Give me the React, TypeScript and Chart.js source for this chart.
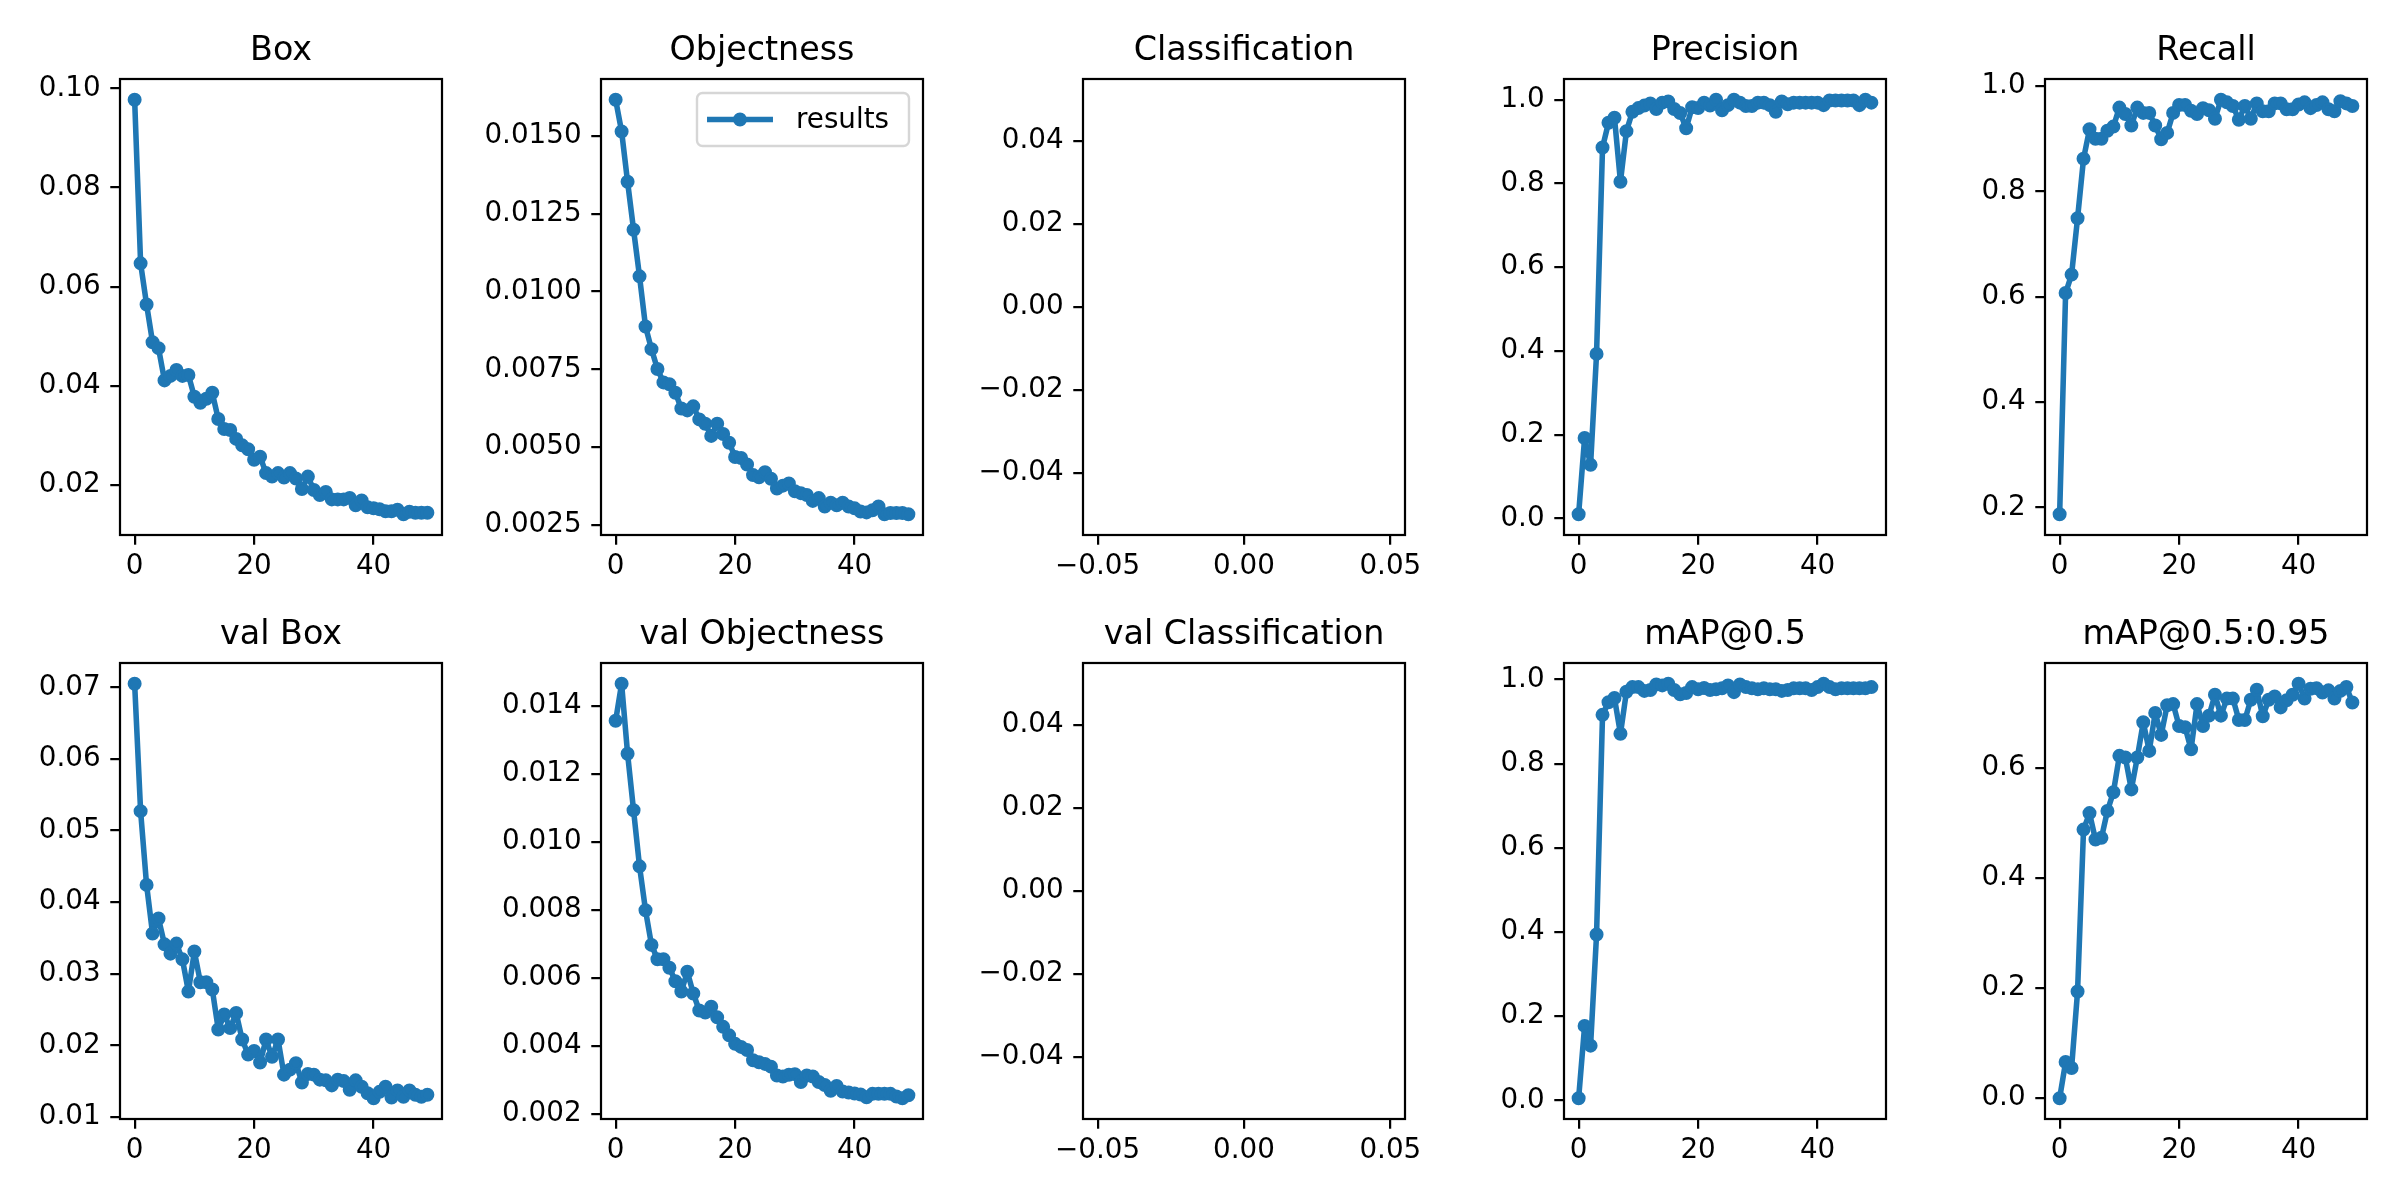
import React, { useEffect, useRef } from 'react';
import { Chart, registerables } from 'chart.js';

Chart.register(...registerables);

// ---------- data ----------
const epochs = [0,1,2,3,4,5,6,7,8,9,10,11,12,13,14,15,16,17,18,19,20,21,22,23,24,25,26,27,28,29,30,31,32,33,34,35,36,37,38,39,40,41,42,43,44,45,46,47,48,49];

const boxLoss = [0.0977,0.0647,0.0564,0.0488,0.0476,0.0411,0.0420,0.0432,0.0420,0.0422,0.0378,0.0366,0.0374,0.0386,0.0333,0.0313,0.0311,0.0293,0.0280,0.0272,0.0251,0.0257,0.0224,0.0217,0.0224,0.0215,0.0224,0.0213,0.0192,0.0217,0.0190,0.0180,0.0186,0.0171,0.0171,0.0171,0.0174,0.0159,0.0169,0.0155,0.0153,0.0151,0.0147,0.0147,0.0150,0.0141,0.0146,0.0144,0.0144,0.0144];
const objLoss = [0.01617,0.01515,0.01353,0.01199,0.01049,0.00888,0.00815,0.00751,0.00708,0.00702,0.00675,0.00624,0.00618,0.00631,0.00589,0.00575,0.00536,0.00575,0.00542,0.00514,0.00468,0.00465,0.00444,0.00410,0.00403,0.00419,0.00398,0.00367,0.00376,0.00383,0.00358,0.00352,0.00346,0.00327,0.00336,0.00309,0.00321,0.00313,0.00321,0.00309,0.00303,0.00293,0.00290,0.00297,0.00309,0.00284,0.00288,0.00288,0.00288,0.00284];
const clsLoss: number[] = [];
const precision = [0.010,0.192,0.128,0.393,0.886,0.945,0.957,0.804,0.925,0.971,0.980,0.986,0.991,0.978,0.993,0.996,0.978,0.968,0.932,0.982,0.980,0.993,0.986,1.000,0.975,0.987,1.000,0.993,0.985,0.985,0.993,0.993,0.987,0.971,0.996,0.989,0.993,0.993,0.993,0.993,0.993,0.987,0.998,0.998,0.998,0.998,0.998,0.987,1.000,0.993];
const recall = [0.187,0.607,0.642,0.749,0.862,0.918,0.900,0.900,0.915,0.923,0.959,0.947,0.925,0.959,0.949,0.949,0.925,0.899,0.911,0.949,0.964,0.964,0.953,0.947,0.958,0.954,0.938,0.974,0.969,0.962,0.936,0.962,0.938,0.967,0.952,0.952,0.967,0.967,0.956,0.956,0.965,0.969,0.958,0.964,0.969,0.956,0.952,0.971,0.967,0.962];
const valBoxLoss = [0.0705,0.0527,0.0424,0.0356,0.0377,0.0341,0.0328,0.0342,0.0320,0.0275,0.0331,0.0288,0.0288,0.0278,0.0222,0.0243,0.0224,0.0245,0.0208,0.0187,0.0192,0.0176,0.0208,0.0184,0.0208,0.0159,0.0166,0.0175,0.0148,0.0160,0.0159,0.0152,0.0151,0.0144,0.0152,0.0150,0.0138,0.0151,0.0142,0.0133,0.0126,0.0135,0.0142,0.0127,0.0137,0.0128,0.0137,0.0131,0.0128,0.0131];
const valObjLoss = [0.01357,0.01466,0.01260,0.01094,0.00929,0.00800,0.00698,0.00656,0.00656,0.00631,0.00591,0.00561,0.00619,0.00555,0.00505,0.00499,0.00516,0.00485,0.00457,0.00432,0.00407,0.00398,0.00389,0.00359,0.00353,0.00348,0.00340,0.00314,0.00311,0.00316,0.00318,0.00295,0.00314,0.00311,0.00295,0.00286,0.00269,0.00283,0.00267,0.00264,0.00261,0.00258,0.00250,0.00260,0.00260,0.00260,0.00260,0.00252,0.00247,0.00256];
const valClsLoss: number[] = [];
const map50 = [0.005,0.177,0.130,0.394,0.916,0.946,0.956,0.871,0.971,0.982,0.982,0.973,0.975,0.988,0.986,0.990,0.975,0.965,0.968,0.982,0.977,0.980,0.975,0.977,0.979,0.986,0.970,0.988,0.982,0.979,0.977,0.979,0.977,0.977,0.973,0.975,0.979,0.979,0.979,0.975,0.982,0.990,0.982,0.977,0.979,0.979,0.979,0.979,0.979,0.982];
const map5095 = [0.000,0.066,0.055,0.194,0.488,0.518,0.470,0.473,0.522,0.556,0.622,0.619,0.561,0.619,0.683,0.631,0.700,0.660,0.714,0.716,0.676,0.674,0.634,0.716,0.676,0.695,0.733,0.695,0.726,0.726,0.687,0.687,0.724,0.742,0.694,0.724,0.730,0.710,0.723,0.733,0.753,0.726,0.744,0.745,0.737,0.741,0.726,0.740,0.747,0.719];

// ---------- tick labels ----------
const epochTicks = [0, 20, 40];
const emptyXTicks = [-0.05, 0, 0.05];
const emptyYTicks = [-0.04, -0.02, 0, 0.02, 0.04];
const boxTicks = [0.02, 0.04, 0.06, 0.08, 0.10];
const objTicks = [0.0025, 0.005, 0.0075, 0.01, 0.0125, 0.015];
const unitTicks = [0, 0.2, 0.4, 0.6, 0.8, 1.0];
const recallTicks = [0.2, 0.4, 0.6, 0.8, 1.0];
const valBoxTicks = [0.01, 0.02, 0.03, 0.04, 0.05, 0.06, 0.07];
const valObjTicks = [0.002, 0.004, 0.006, 0.008, 0.010, 0.012, 0.014];
const map5095Ticks = [0, 0.2, 0.4, 0.6];

const titles = ['Box', 'Objectness', 'Classification', 'Precision', 'Recall',
  'val Box', 'val Objectness', 'val Classification', 'mAP@0.5', 'mAP@0.5:0.95'];
const seriesLabel = 'results';

type PanelDef = {
  title: string;
  values: number[];
  yTicks: number[];
  yDec: number;
  xTicks: number[];
  xDec: number;
  legend?: boolean;
};

const PANELS: PanelDef[] = [
  { title: titles[0], values: boxLoss, yTicks: boxTicks, yDec: 2, xTicks: epochTicks, xDec: 0 },
  { title: titles[1], values: objLoss, yTicks: objTicks, yDec: 4, xTicks: epochTicks, xDec: 0, legend: true },
  { title: titles[2], values: clsLoss, yTicks: emptyYTicks, yDec: 2, xTicks: emptyXTicks, xDec: 2 },
  { title: titles[3], values: precision, yTicks: unitTicks, yDec: 1, xTicks: epochTicks, xDec: 0 },
  { title: titles[4], values: recall, yTicks: recallTicks, yDec: 1, xTicks: epochTicks, xDec: 0 },
  { title: titles[5], values: valBoxLoss, yTicks: valBoxTicks, yDec: 2, xTicks: epochTicks, xDec: 0 },
  { title: titles[6], values: valObjLoss, yTicks: valObjTicks, yDec: 3, xTicks: epochTicks, xDec: 0 },
  { title: titles[7], values: valClsLoss, yTicks: emptyYTicks, yDec: 2, xTicks: emptyXTicks, xDec: 2 },
  { title: titles[8], values: map50, yTicks: unitTicks, yDec: 1, xTicks: epochTicks, xDec: 0 },
  { title: titles[9], values: map5095, yTicks: map5095Ticks, yDec: 1, xTicks: epochTicks, xDec: 0 },
];

// ---------- style / layout ----------
const FONT = '"DejaVu Sans", "Liberation Sans", sans-serif';
const TICK_FS = 27.78;
const TITLE_FS = 33.33;
const C0 = '#1f77b4';
const SPINE_W = 2.22;
const TICK_LEN = 9.72;
const LINE_W = 5.56;

const AX_LEFTS = [120, 601, 1083, 1564, 2045];
const AX_TOPS = [79, 662.5];
const AX_W = 322;
const AX_H = 456;
const SIDE_W = 150; // y-axis block on the left, mirrored empty block on the right
const TITLE_H = 70;
const X_AXIS_H = 70;
const CANVAS_W = SIDE_W + AX_W + SIDE_W;
const CANVAS_H = TITLE_H + AX_H + X_AXIS_H;

// legend box (inside the Objectness axes, upper right)
const LEG_W = 212;
const LEG_H = 53;
const LEG_INSET = 14;
const LEG_HANDLE_X0 = 12.8;
const LEG_HANDLE_X1 = 73.2;
const LEG_TEXT_X = 99;

function fmt(v: number, dec: number): string {
  const s = Number(v).toFixed(dec);
  return s.replace('-', '\u2212');
}

function withMargin(vals: number[], fallback: [number, number]): [number, number] {
  if (!vals.length) return fallback;
  const mn = Math.min(...vals);
  const mx = Math.max(...vals);
  const m = (mx - mn) * 0.05;
  return [mn - m, mx + m];
}

const frameBox = {
  id: 'frameBox',
  afterDatasetsDraw(chart: any) {
    const { ctx, chartArea: a } = chart;
    ctx.save();
    ctx.strokeStyle = '#000';
    ctx.lineWidth = SPINE_W;
    ctx.strokeRect(a.left, a.top, a.right - a.left, a.bottom - a.top);
    ctx.restore();
  },
};

const insideLegend = {
  id: 'insideLegend',
  afterDraw(chart: any) {
    const { ctx, chartArea: a } = chart;
    const ds = chart.data.datasets[0];
    const label: string = ds.label;
    ctx.save();
    const right = a.right - LEG_INSET;
    const top = a.top + LEG_INSET;
    const left = right - LEG_W;
    ctx.beginPath();
    if ((ctx as any).roundRect) (ctx as any).roundRect(left, top, LEG_W, LEG_H, 5.5);
    else ctx.rect(left, top, LEG_W, LEG_H);
    ctx.fillStyle = 'rgba(255,255,255,0.8)';
    ctx.fill();
    ctx.lineWidth = 2.4;
    ctx.strokeStyle = 'rgba(204,204,204,0.8)';
    ctx.stroke();
    const cy = top + LEG_H / 2;
    ctx.beginPath();
    ctx.moveTo(left + LEG_HANDLE_X0, cy);
    ctx.lineTo(left + LEG_HANDLE_X1, cy);
    ctx.strokeStyle = C0;
    ctx.lineWidth = LINE_W;
    ctx.lineCap = 'square';
    ctx.stroke();
    ctx.beginPath();
    ctx.arc(left + (LEG_HANDLE_X0 + LEG_HANDLE_X1) / 2, cy, 5.6, 0, Math.PI * 2);
    ctx.fillStyle = C0;
    ctx.fill();
    ctx.lineWidth = 2.8;
    ctx.strokeStyle = C0;
    ctx.stroke();
    ctx.font = `${TICK_FS}px ${FONT}`;
    ctx.fillStyle = '#000';
    ctx.textAlign = 'left';
    ctx.textBaseline = 'middle';
    ctx.fillText(label, left + LEG_TEXT_X, cy + 1);
    ctx.restore();
  },
};

function buildConfig(p: PanelDef): any {
  const xr = p.values.length ? withMargin(epochs, [-0.055, 0.055]) : [-0.055, 0.055];
  const yr = withMargin(p.values, [-0.055, 0.055]);
  const points = p.values.map((v, i) => ({ x: epochs[i], y: v }));
  const tickFont = { family: FONT, size: TICK_FS, lineHeight: 1.2 };
  const grid = {
    display: true,
    drawOnChartArea: false,
    drawTicks: true,
    tickLength: TICK_LEN,
    tickWidth: SPINE_W,
    tickColor: '#000',
    lineWidth: SPINE_W,
    color: '#000',
  };
  return {
    type: 'line',
    data: {
      datasets: [
        {
          label: seriesLabel,
          data: points,
          yAxisID: 'y',
          borderColor: C0,
          backgroundColor: C0,
          borderWidth: LINE_W,
          borderJoinStyle: 'round',
          borderCapStyle: 'square',
          pointRadius: 5.6,
          pointBorderWidth: 2.8,
          pointBackgroundColor: C0,
          pointBorderColor: C0,
          pointHoverRadius: 5.6,
          tension: 0,
          fill: false,
        },
      ],
    },
    options: {
      responsive: false,
      animation: false,
      events: [],
      layout: { padding: 0 },
      plugins: {
        legend: { display: false },
        tooltip: { enabled: false },
        title: {
          display: true,
          text: p.title,
          color: '#000',
          font: { family: FONT, size: TITLE_FS, weight: 'normal', lineHeight: 1.2 },
          padding: { top: 22, bottom: 8 },
        },
      },
      scales: {
        x: {
          type: 'linear',
          position: 'bottom',
          min: xr[0],
          max: xr[1],
          grid,
          border: { display: false },
          afterBuildTicks: (s: any) => { s.ticks = p.xTicks.map((v) => ({ value: v })); },
          afterFit: (s: any) => { s.height = X_AXIS_H; },
          ticks: {
            autoSkip: false,
            maxRotation: 0,
            minRotation: 0,
            padding: 5,
            color: '#000',
            font: tickFont,
            callback: (v: any) => fmt(Number(v), p.xDec),
          },
        },
        y: {
          type: 'linear',
          position: 'left',
          min: yr[0],
          max: yr[1],
          grid,
          border: { display: false },
          afterBuildTicks: (s: any) => { s.ticks = p.yTicks.map((v) => ({ value: v })); },
          afterFit: (s: any) => { s.width = SIDE_W; },
          ticks: {
            autoSkip: false,
            padding: TICK_LEN,
            color: '#000',
            font: tickFont,
            callback: (v: any) => fmt(Number(v), p.yDec),
          },
        },
        yRightSpacer: {
          type: 'linear',
          position: 'right',
          display: true,
          min: yr[0],
          max: yr[1],
          grid: { display: false, drawTicks: false },
          border: { display: false },
          ticks: { display: false },
          afterFit: (s: any) => { s.width = SIDE_W; },
        },
      },
    },
    plugins: p.legend ? [frameBox, insideLegend] : [frameBox],
  };
}

function PanelChart({ p, idx }: { p: PanelDef; idx: number }) {
  const ref = useRef<HTMLCanvasElement | null>(null);
  useEffect(() => {
    if (!ref.current) return;
    const chart = new Chart(ref.current, buildConfig(p));
    return () => chart.destroy();
  }, [p]);
  const col = idx % 5;
  const row = Math.floor(idx / 5);
  const left = AX_LEFTS[col] - SIDE_W;
  const top = AX_TOPS[row] - TITLE_H;
  return (
    <canvas
      ref={ref}
      width={CANVAS_W}
      height={CANVAS_H}
      style={{ position: 'absolute', left, top, width: CANVAS_W, height: CANVAS_H }}
    />
  );
}

export default function App() {
  return (
    <div
      style={{
        position: 'absolute',
        left: 0,
        top: 0,
        width: 2400,
        height: 1200,
        background: '#fff',
        overflow: 'hidden',
      }}
    >
      {PANELS.map((p, i) => (
        <PanelChart key={i} p={p} idx={i} />
      ))}
    </div>
  );
}
